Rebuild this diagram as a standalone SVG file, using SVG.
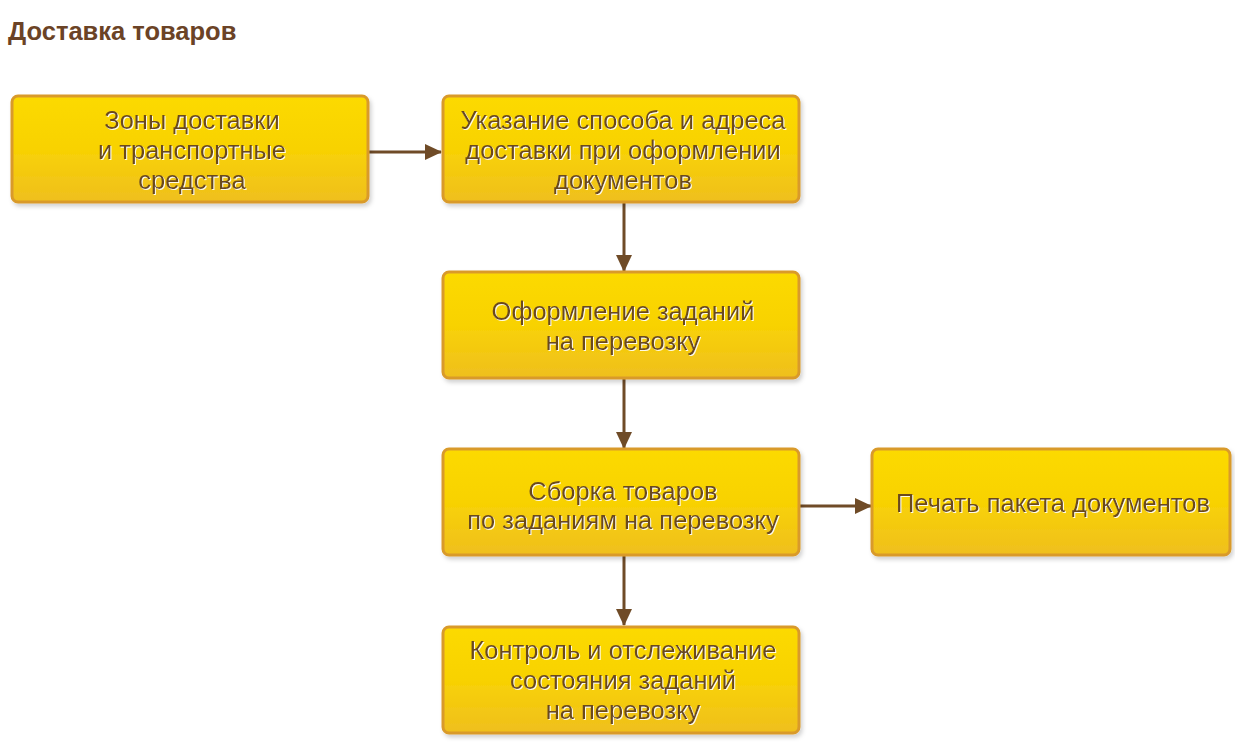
<svg xmlns="http://www.w3.org/2000/svg" width="1235" height="742" viewBox="0 0 1235 742">
<defs>
<linearGradient id="g" x1="0" y1="0" x2="0" y2="1">
<stop offset="0" stop-color="#fcda00"/>
<stop offset="0.5" stop-color="#f8d204"/>
<stop offset="1" stop-color="#efbf1e"/>
</linearGradient>
<filter id="bs" x="-5%" y="-10%" width="115%" height="130%">
<feDropShadow dx="2" dy="3" stdDeviation="2" flood-color="#000" flood-opacity="0.18"/>
</filter>
<filter id="ts" x="-5%" y="-20%" width="110%" height="150%">
<feDropShadow dx="1" dy="1" stdDeviation="0.6" flood-color="#fff" flood-opacity="0.9"/>
</filter>
<marker id="ah" markerWidth="17" markerHeight="16" refX="16" refY="8" orient="auto" markerUnits="userSpaceOnUse">
<path d="M0,0 L17,8 L0,16 Z" fill="#6f4b27"/>
</marker>
<style>
.box{fill:url(#g);stroke:#d99a2b;stroke-width:3;filter:url(#bs)}
.t{font-family:"Liberation Sans",Arial,sans-serif;font-size:25.5px;fill:#6b4a1f;text-anchor:middle;filter:url(#ts)}
.title{font-family:"Liberation Sans",Arial,sans-serif;font-size:25.5px;font-weight:bold;fill:#6b4326}
.c{stroke:#6f4b27;stroke-width:3;fill:none;marker-end:url(#ah)}
</style>
</defs>
<rect width="1235" height="742" fill="#fff"/>
<text class="title" x="8" y="40">Доставка товаров</text>
<g id="connectors">
<line class="c" x1="369" y1="152" x2="441" y2="152"/>
<line class="c" x1="624" y1="202" x2="624" y2="271"/>
<line class="c" x1="624" y1="378" x2="624" y2="448"/>
<line class="c" x1="799" y1="506" x2="871" y2="506"/>
<line class="c" x1="624" y1="555" x2="624" y2="625"/>
</g>
<g id="n1">
<rect class="box" x="12" y="96" width="356" height="106" rx="6"/>
<text class="t" x="192" y="129">Зоны доставки</text>
<text class="t" x="192" y="159">и транспортные</text>
<text class="t" x="192" y="189">средства</text>
</g>
<g id="n2">
<rect class="box" x="443" y="96" width="356" height="106" rx="6"/>
<text class="t" x="623" y="129">Указание способа и адреса</text>
<text class="t" x="623" y="159">доставки при оформлении</text>
<text class="t" x="623" y="189">документов</text>
</g>
<g id="n3">
<rect class="box" x="443" y="272" width="356" height="106" rx="6"/>
<text class="t" x="623" y="320">Оформление заданий</text>
<text class="t" x="623" y="350">на перевозку</text>
</g>
<g id="n4">
<rect class="box" x="443" y="449" width="356" height="106" rx="6"/>
<text class="t" x="623" y="500">Сборка товаров</text>
<text class="t" x="623" y="529">по заданиям на перевозку</text>
</g>
<g id="n5">
<rect class="box" x="872" y="449" width="358" height="106" rx="6"/>
<text class="t" x="1053" y="512">Печать пакета документов</text>
</g>
<g id="n6">
<rect class="box" x="443" y="627" width="356" height="106" rx="6"/>
<text class="t" x="623" y="659">Контроль и отслеживание</text>
<text class="t" x="623" y="689">состояния заданий</text>
<text class="t" x="623" y="719">на перевозку</text>
</g>
</svg>
